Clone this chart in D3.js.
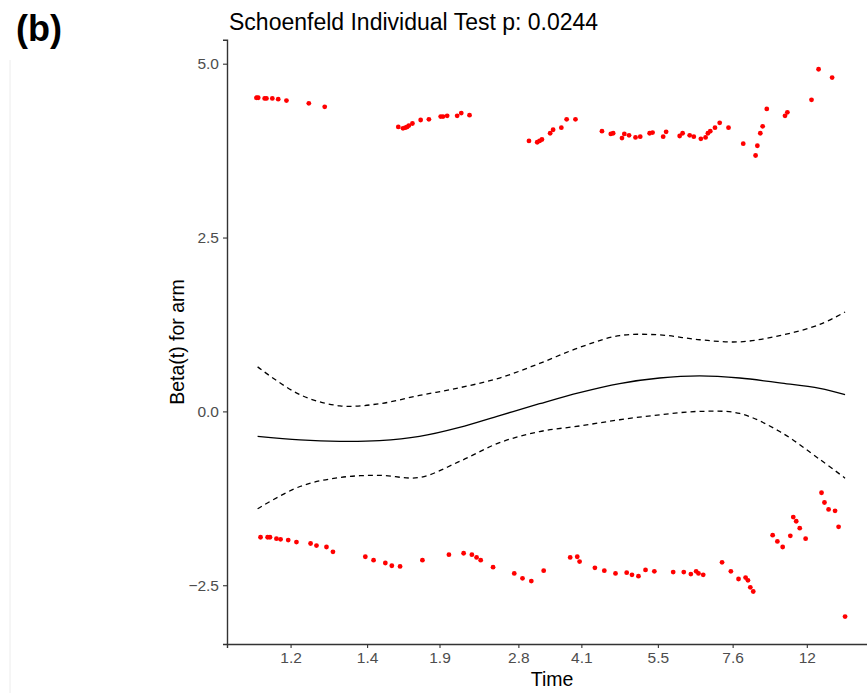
<!DOCTYPE html>
<html>
<head>
<meta charset="utf-8">
<script src="https://cdn.jsdelivr.net/npm/d3@7"></script>
<style>
  body { margin: 0; background: #fff; }
  #visual { width: 867px; height: 693px; }
  text { font-family: "Liberation Sans", Arial, sans-serif; }
</style>
</head>
<body>
<div id="visual"></div>
<script>
// transformed time (0..1 across the data) and beta(t) residuals
var topX = [0.000, 0.003, 0.014, 0.017, 0.027, 0.037, 0.051, 0.089, 0.116, 0.241, 0.249, 0.253, 0.256, 0.259, 0.265, 0.279, 0.293, 0.313, 0.317, 0.324, 0.341, 0.348, 0.362, 0.463, 0.477, 0.481, 0.485, 0.499, 0.504, 0.518, 0.527, 0.542, 0.587, 0.602, 0.606, 0.621, 0.625, 0.633, 0.644, 0.652, 0.668, 0.673, 0.691, 0.696, 0.719, 0.724, 0.736, 0.743, 0.755, 0.763, 0.767, 0.771, 0.779, 0.787, 0.802, 0.827, 0.848, 0.851, 0.856, 0.860, 0.867, 0.898, 0.902, 0.943, 0.955, 0.978];
var topY = [4.51, 4.51, 4.50, 4.50, 4.50, 4.49, 4.47, 4.43, 4.38, 4.09, 4.07, 4.08, 4.09, 4.11, 4.14, 4.19, 4.20, 4.24, 4.24, 4.25, 4.25, 4.29, 4.26, 3.89, 3.87, 3.89, 3.91, 4.00, 4.05, 4.08, 4.20, 4.20, 4.03, 3.99, 4.00, 3.93, 3.99, 3.97, 3.94, 3.95, 4.00, 4.01, 3.95, 4.02, 3.96, 4.00, 3.97, 3.95, 3.92, 3.94, 4.00, 4.03, 4.08, 4.15, 4.08, 3.85, 3.68, 3.82, 4.00, 4.10, 4.35, 4.25, 4.30, 4.48, 4.92, 4.80];

var botX = [0.007, 0.019, 0.023, 0.034, 0.041, 0.054, 0.068, 0.092, 0.102, 0.119, 0.130, 0.185, 0.199, 0.219, 0.230, 0.244, 0.282, 0.327, 0.352, 0.366, 0.374, 0.381, 0.402, 0.438, 0.452, 0.467, 0.488, 0.533, 0.545, 0.549, 0.575, 0.591, 0.610, 0.629, 0.638, 0.649, 0.661, 0.676, 0.708, 0.726, 0.738, 0.747, 0.751, 0.759, 0.791, 0.806, 0.819, 0.831, 0.835, 0.839, 0.844, 0.877, 0.885, 0.894, 0.907, 0.912, 0.917, 0.923, 0.933, 0.960, 0.965, 0.972, 0.983, 0.989, 1.000];
var botY = [-1.81, -1.81, -1.81, -1.83, -1.84, -1.85, -1.88, -1.90, -1.93, -1.95, -2.02, -2.09, -2.14, -2.18, -2.22, -2.23, -2.14, -2.06, -2.04, -2.06, -2.10, -2.14, -2.24, -2.33, -2.40, -2.44, -2.29, -2.10, -2.09, -2.16, -2.25, -2.29, -2.33, -2.32, -2.35, -2.37, -2.28, -2.30, -2.31, -2.31, -2.34, -2.30, -2.33, -2.35, -2.17, -2.30, -2.41, -2.39, -2.43, -2.53, -2.59, -1.78, -1.87, -1.95, -1.79, -1.52, -1.58, -1.68, -1.83, -1.17, -1.31, -1.41, -1.43, -1.66, -2.95];

// smoothed fit and confidence band
var fitX = [0.002, 0.074, 0.142, 0.209, 0.277, 0.345, 0.413, 0.481, 0.549, 0.617, 0.685, 0.753, 0.821, 0.889, 0.957, 1.000];
var fitY = [-0.36, -0.41, -0.43, -0.42, -0.36, -0.23, -0.06, 0.11, 0.27, 0.40, 0.48, 0.51, 0.48, 0.41, 0.33, 0.24];
var upperY = [0.64, 0.24, 0.08, 0.11, 0.23, 0.34, 0.48, 0.69, 0.92, 1.09, 1.10, 1.03, 1.00, 1.09, 1.25, 1.43];
var lowerY = [-1.40, -1.08, -0.95, -0.92, -0.95, -0.72, -0.45, -0.29, -0.21, -0.12, -0.05, 0.00, -0.03, -0.29, -0.69, -0.96];

var tickPos = [0.058, 0.188, 0.311, 0.445, 0.552, 0.682, 0.809, 0.935];
var tickLabels = ['1.2', '1.4', '1.9', '2.8', '4.1', '5.5', '7.6', '12'];
var yTicks = [-2.5, 0, 2.5, 5];

var width = 867, height = 693;

var svg = d3.select('#visual')
    .append('svg')
    .attr('width', width)
    .attr('height', height);

var x_scale = d3.scaleLinear()
    .domain([-0.05, 1.05])
    .range([227, 874.5]);

var y_scale = d3.scaleLinear()
    .domain([-3.345, 5.345])
    .range([644, 39.7]);

// faint page edge on the left
svg.append('line')
    .attr('x1', 10).attr('x2', 10)
    .attr('y1', 60).attr('y2', height)
    .attr('stroke', '#ececec');

var line = d3.line()
    .x(function (d) { return x_scale(d[0]); })
    .y(function (d) { return y_scale(d[1]); })
    .curve(d3.curveCatmullRom);

function pairs(xs, ys) {
    return xs.map(function (v, i) { return [v, ys[i]]; });
}

svg.append('path')
    .datum(pairs(fitX, fitY))
    .attr('d', line)
    .attr('fill', 'none')
    .attr('stroke', '#000')
    .attr('stroke-width', 1.3);

[upperY, lowerY].forEach(function (ys) {
    svg.append('path')
        .datum(pairs(fitX, ys))
        .attr('d', line)
        .attr('fill', 'none')
        .attr('stroke', '#000')
        .attr('stroke-width', 1.3)
        .attr('stroke-dasharray', '5,4');
});

var points = pairs(topX, topY).concat(pairs(botX, botY));
svg.selectAll('.pt')
    .data(points)
    .enter().append('circle')
    .attr('class', 'pt')
    .attr('cx', function (d) { return x_scale(d[0]); })
    .attr('cy', function (d) { return y_scale(d[1]); })
    .attr('r', 2.4)
    .attr('fill', '#ff0000');

var x_axis = d3.axisBottom(x_scale)
    .tickValues(tickPos)
    .tickFormat(function (d, i) { return tickLabels[i]; })
    .tickSizeOuter(0)
    .tickSize(4)
    .tickPadding(4);

var y_axis = d3.axisLeft(y_scale)
    .tickValues(yTicks)
    .tickFormat(d3.format('.1f'))
    .tickSizeOuter(0)
    .tickSize(4)
    .tickPadding(4);

var gx = svg.append('g')
    .attr('transform', 'translate(0,644)')
    .call(x_axis);

var gy = svg.append('g')
    .attr('transform', 'translate(227,0)')
    .call(y_axis);

[gx, gy].forEach(function (g) {
    g.select('.domain').attr('stroke', '#333').attr('stroke-width', 1.4);
    g.selectAll('.tick line').attr('stroke', '#333').attr('stroke-width', 1.1);
    g.selectAll('.tick text')
        .attr('fill', '#4d4d4d')
        .style('font-size', '15.5px')
        .style('font-family', '"Liberation Sans", Arial, sans-serif');
});

svg.append('text')
    .attr('x', 552)
    .attr('y', 686)
    .attr('text-anchor', 'middle')
    .style('font-size', '19.5px')
    .text('Time');

svg.append('text')
    .attr('transform', 'translate(184,342) rotate(-90)')
    .attr('text-anchor', 'middle')
    .style('font-size', '19.5px')
    .text('Beta(t) for arm');

svg.append('text')
    .attr('x', 229)
    .attr('y', 30)
    .style('font-size', '23px')
    .text('Schoenfeld Individual Test p: 0.0244');

svg.append('text')
    .attr('x', 16)
    .attr('y', 41)
    .style('font-size', '36px')
    .style('font-weight', 'bold')
    .text('(b)');
</script>
</body>
</html>
